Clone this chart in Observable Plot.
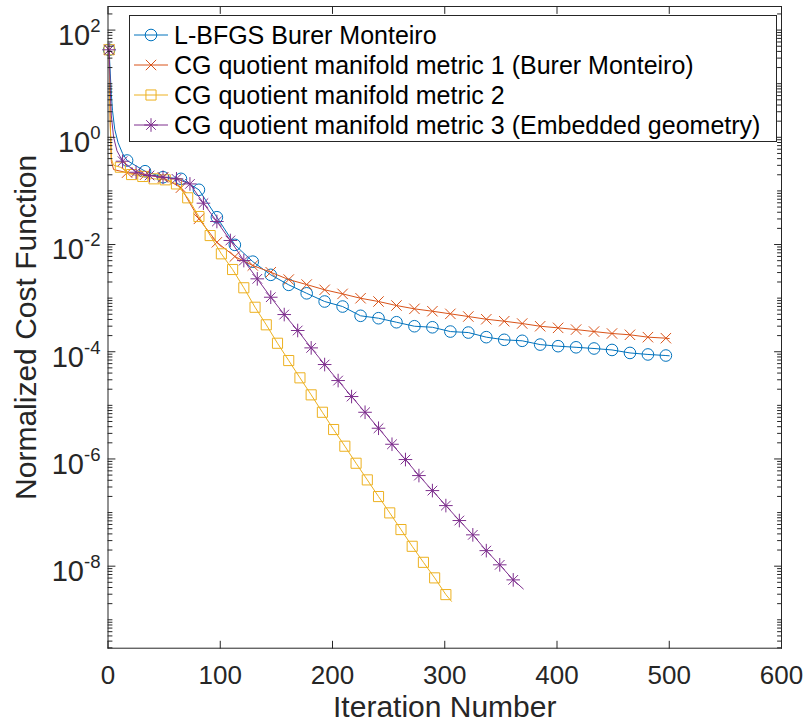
<!DOCTYPE html>
<html><head><meta charset="utf-8">
<script src="https://cdn.jsdelivr.net/npm/d3@7"></script>
<script src="https://cdn.jsdelivr.net/npm/@observablehq/plot@0.6"></script>
<style>
html,body{margin:0;padding:0;background:#fff;}
#wrap{position:relative;width:808px;height:723px;font-family:"Liberation Sans",Arial,Helvetica,sans-serif;color:#000;}
#legend{position:absolute;left:129px;top:15px;width:648px;height:127px;border:1px solid #262626;background:#fff;box-sizing:border-box;padding-top:4px;}
#legend .row{display:flex;align-items:center;height:30px;font-size:25px;white-space:nowrap;}
#legend svg{flex:none;margin-left:3px;margin-right:5px;}
</style></head><body><div id="wrap"></div><script>
// ---- data (iteration number, normalized cost) ----
const seriesNames = ["L-BFGS Burer Monteiro","CG quotient manifold metric 1 (Burer Monteiro)","CG quotient manifold metric 2","CG quotient manifold metric 3 (Embedded geometry)"];
const seriesColors = ["#0072BD","#D95319","#EDB120","#7E2F8E"];
const markerEvery = [16,16,10,12];

const blueIter = [1,2,3,4,6,9,13,17,33,49,65,81,97,113,129,145,161,177,193,209,225,241,257,273,289,305,321,337,353,369,385,401,417,433,449,465,481,497,500];
const blueValue = [42.9,15.8,6.3,3.16,1.41,0.79,0.50,0.369,0.233,0.180,0.168,0.105,0.0323,9.86e-3,4.79e-3,2.72e-3,1.77e-3,1.23e-3,8.65e-4,6.97e-4,4.68e-4,4.22e-4,3.55e-4,2.99e-4,2.86e-4,2.38e-4,2.28e-4,1.87e-4,1.67e-4,1.60e-4,1.36e-4,1.27e-4,1.21e-4,1.15e-4,1.08e-4,9.5e-5,8.9e-5,8.5e-5,8.4e-5];

const redIter = [1,2,3,5,17,33,49,65,81,97,113,129,145,161,177,193,209,225,241,257,273,289,305,321,337,353,369,385,401,417,433,449,465,481,497,500];
const redValue = [42.9,2.0,0.355,0.25,0.219,0.200,0.178,0.115,0.0301,0.0110,5.97e-3,4.06e-3,3.04e-3,2.22e-3,1.79e-3,1.43e-3,1.20e-3,9.95e-4,8.65e-4,7.28e-4,6.31e-4,5.70e-4,5.09e-4,4.54e-4,4.04e-4,3.71e-4,3.36e-4,2.99e-4,2.79e-4,2.59e-4,2.38e-4,2.19e-4,2.07e-4,1.87e-4,1.79e-4,1.76e-4];

const yellowIter = [1,2,3,5,11,21,31,41,51,61,71,81,91,101,111,121,131,141,151,161,171,181,191,201,211,221,231,241,251,261,271,281,291,301,306];
const yellowValue = [42.9,1.6,0.40,0.30,0.277,0.202,0.186,0.168,0.161,0.135,0.0743,0.0333,0.0147,6.71e-3,3.42e-3,1.56e-3,6.76e-4,3.18e-4,1.44e-4,6.85e-5,3.26e-5,1.57e-5,7.43e-6,3.54e-6,1.73e-6,8.32e-7,4.07e-7,1.99e-7,9.86e-8,4.82e-8,2.35e-8,1.18e-8,6.05e-9,2.95e-9,2.21e-9];

const purpleIter = [1,2,3,5,8,13,25,37,49,61,73,85,97,109,121,133,145,157,169,181,193,205,217,229,241,253,265,277,289,301,313,325,337,349,361,370];
const purpleValue = [42.9,7.9,2.5,1.0,0.56,0.358,0.223,0.194,0.180,0.168,0.135,0.0590,0.0269,0.0119,5.02e-3,2.29e-3,1.04e-3,4.94e-4,2.49e-4,1.18e-4,5.77e-5,2.90e-5,1.46e-5,7.43e-6,3.74e-6,1.88e-6,9.75e-7,4.90e-7,2.57e-7,1.35e-7,7.10e-8,3.84e-8,1.95e-8,1.06e-8,5.55e-9,3.76e-9];

// ---- ticks ----
const xTicks = [0,100,200,300,400,500,600];
const yMajorTicks = [1e-8,1e-6,1e-4,1e-2,1,100];
const yDomain = [Math.pow(10,-9.53), Math.pow(10,2.44)];
const yMinorTicks = [];
for (let e = -10; e <= 2; e++) for (let k = 1; k <= 9; k++) {
  const v = k * Math.pow(10, e);
  if (v >= yDomain[0] && v <= yDomain[1] && !(k === 1 && e % 2 === 0)) yMinorTicks.push(v);
}

const ink = "#262626";
const font = '"Liberation Sans",Arial,Helvetica,sans-serif';

const star8 = {draw(ctx, size) {
  const r = Math.sqrt(size / Math.PI), d = r * Math.SQRT1_2;
  ctx.moveTo(0,-r); ctx.lineTo(0,r); ctx.moveTo(-r,0); ctx.lineTo(r,0);
  ctx.moveTo(-d,-d); ctx.lineTo(d,d); ctx.moveTo(-d,d); ctx.lineTo(d,-d);
}};
const symbols = ["circle","times","square",star8];
const symbolR = [5.8,4.8,5.7,6.8];

const iters = [blueIter, redIter, yellowIter, purpleIter];
const values = [blueValue, redValue, yellowValue, purpleValue];
const tables = iters.map((it, s) => it.map((x, i) => ({iter: x, value: values[s][i], marker: (x - 1) % markerEvery[s] === 0})));

const tickShape = {draw(ctx, l) { ctx.moveTo(0,0); ctx.lineTo(0,-l); }};
function ticksY(data, len) {
  return [
    Plot.vector(data, {y: d => d, frameAnchor: "left", rotate: 90, length: len, anchor: "start", shape: tickShape, stroke: ink, strokeWidth: 1}),
    Plot.vector(data, {y: d => d, frameAnchor: "right", rotate: -90, length: len, anchor: "start", shape: tickShape, stroke: ink, strokeWidth: 1})
  ];
}
function ticksX(data, len) {
  return [
    Plot.vector(data, {x: d => d, frameAnchor: "bottom", rotate: 0, length: len, anchor: "start", shape: tickShape, stroke: ink, strokeWidth: 1}),
    Plot.vector(data, {x: d => d, frameAnchor: "top", rotate: 180, length: len, anchor: "start", shape: tickShape, stroke: ink, strokeWidth: 1})
  ];
}

const seriesMarks = [];
tables.forEach((t, s) => {
  seriesMarks.push(Plot.line(t, {x: "iter", y: "value", stroke: seriesColors[s], strokeWidth: 1}));
  seriesMarks.push(Plot.dot(t.filter(d => d.marker), {x: "iter", y: "value", symbol: () => symbols[s], r: symbolR[s], stroke: seriesColors[s], fill: "none", strokeWidth: 1}));
});

const chart = Plot.plot({
  width: 808, height: 723,
  marginLeft: 107.5, marginRight: 27, marginTop: 6, marginBottom: 75.3,
  style: {fontFamily: font, background: "#fff", color: ink, overflow: "visible"},
  x: {domain: [0, 600]},
  y: {type: "log", domain: yDomain},
  symbol: {type: "identity"},
  marks: [
    ...seriesMarks,
    Plot.frame({stroke: ink, strokeWidth: 1}),
    ...ticksY(yMinorTicks, 4),
    ...ticksY(yMajorTicks, 7),
    ...ticksX(xTicks, 7),
    Plot.axisX(xTicks, {tickSize: 0, tickPadding: 17.5, fontSize: 26, fill: ink, label: null, tickFormat: d => String(d)}),
    Plot.axisY(yMajorTicks, {tickSize: 0, tickPadding: 7.5, fontSize: 29, fill: ink, label: null, dy: 5.5, tickFormat: d => "10^" + Math.round(Math.log10(d))}),
    Plot.text(["Iteration Number"], {text: d => d, frameAnchor: "bottom", textAnchor: "middle", lineAnchor: "middle", dy: 59, fontSize: 30, fill: ink}),
    Plot.text(["Normalized Cost Function"], {text: d => d, frameAnchor: "left", textAnchor: "middle", lineAnchor: "middle", dx: -82, rotate: -90, fontSize: 30, fill: ink})
  ]
});

// superscript exponents on y tick labels
d3.select(chart).selectAll('g[aria-label="y-axis tick label"] text').each(function() {
  const el = d3.select(this);
  const parts = el.text().split("^");
  if (parts.length !== 2) return;
  el.text("");
  el.append("tspan").text(parts[0]);
  el.append("tspan").attr("dy", "-0.7em").attr("font-size", "0.64em").text(parts[1]);
});

const wrap = document.getElementById("wrap");
wrap.appendChild(chart);

// legend
const legend = document.createElement("div");
legend.id = "legend";
seriesNames.forEach((name, s) => {
  const row = document.createElement("div");
  row.className = "row";
  const svg = d3.create("svg").attr("width", 36).attr("height", 30);
  svg.append("line").attr("x1", 1).attr("x2", 35).attr("y1", 15).attr("y2", 15).attr("stroke", seriesColors[s]).attr("stroke-width", 1);
  const sym = typeof symbols[s] === "string" ? ({circle: d3.symbolCircle, times: d3.symbolTimes, square: d3.symbolSquare})[symbols[s]] : symbols[s];
  svg.append("path").attr("transform", "translate(18,15)").attr("d", d3.symbol(sym, Math.PI * symbolR[s] * symbolR[s])()).attr("fill", "none").attr("stroke", seriesColors[s]).attr("stroke-width", 1);
  row.appendChild(svg.node());
  const span = document.createElement("span");
  span.textContent = name;
  row.appendChild(span);
  legend.appendChild(row);
});
wrap.appendChild(legend);
</script></body></html>
